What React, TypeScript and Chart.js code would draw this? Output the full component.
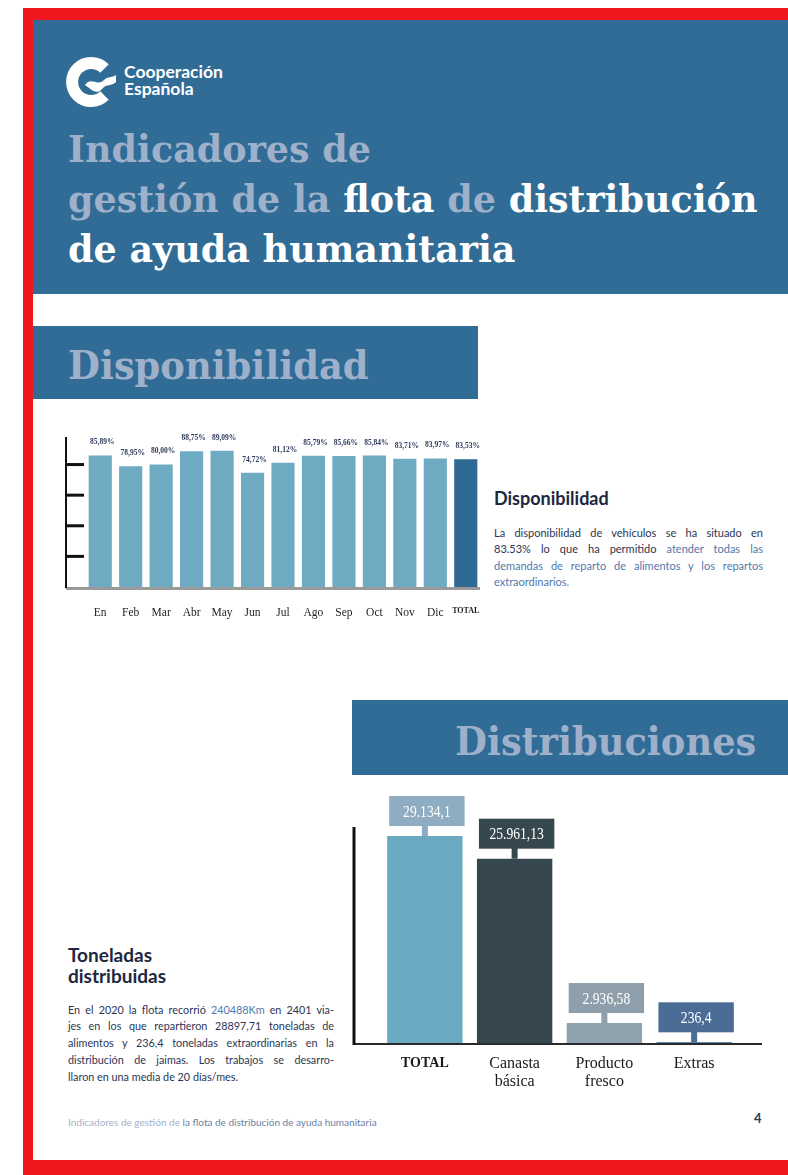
import React, { useEffect, useRef } from 'react';
import { Chart, registerables } from 'chart.js';

Chart.register(...registerables);

// ---------- data ----------
const months = ['En', 'Feb', 'Mar', 'Abr', 'May', 'Jun', 'Jul', 'Ago', 'Sep', 'Oct', 'Nov', 'Dic', 'TOTAL'];
const availability = [85.89, 78.95, 80.0, 88.75, 89.09, 74.72, 81.12, 85.79, 85.66, 85.84, 83.71, 83.97, 83.53];
const availabilityTickStep = 20;

const distCategories: (string | string[])[] = ['TOTAL', ['Canasta', 'básica'], ['Producto', 'fresco'], 'Extras'];
const tonnes = [29134.1, 25961.13, 2936.58, 236.4];
const tonnesTickStep = 5000;

// ---------- helpers ----------
const pct = (v: number) => v.toFixed(2).replace('.', ',') + '%';
const esNum = (v: number) => {
  const [i, d] = String(v).split('.');
  const g = i.replace(/\B(?=(\d{3})+(?!\d))/g, '.');
  return d ? g + ',' + d : g;
};

const axisDeco = {
  id: 'axisDeco',
  afterDatasetsDraw(chart: any, _a: any, o: any) {
    const { ctx, chartArea } = chart;
    const ys = chart.scales.y;
    const ax = chartArea.left - o.gap;
    ctx.save();
    ctx.fillStyle = o.baseColor;
    ctx.fillRect(ax, chartArea.bottom + o.baseOffset, chartArea.right + o.baseExtend - ax, o.baseWidth);
    ctx.fillStyle = o.color;
    ctx.fillRect(ax - o.axisWidth / 2, chartArea.top, o.axisWidth, chartArea.bottom - chartArea.top + 1);
    ys.ticks.forEach((t: any) => {
      if (t.value <= 0 || t.value % o.step !== 0) return;
      const py = ys.getPixelForValue(t.value);
      ctx.fillRect(ax, py - o.tickWidth / 2, o.tickLen, o.tickWidth);
    });
    ctx.restore();
  },
};

const pctLabels = {
  id: 'pctLabels',
  afterDatasetsDraw(chart: any, _a: any, o: any) {
    const { ctx } = chart;
    const meta = chart.getDatasetMeta(0);
    const vals = chart.data.datasets[0].data;
    ctx.save();
    ctx.font = o.font;
    ctx.fillStyle = o.color;
    ctx.textAlign = 'center';
    ctx.textBaseline = 'middle';
    meta.data.forEach((el: any, i: number) => {
      ctx.fillText(pct(vals[i]), el.x + o.dx, el.y - o.dy);
    });
    ctx.restore();
  },
};

const valueBoxes = {
  id: 'valueBoxes',
  afterDatasetsDraw(chart: any, _a: any, o: any) {
    const { ctx } = chart;
    const meta = chart.getDatasetMeta(0);
    const vals = chart.data.datasets[0].data;
    ctx.save();
    meta.data.forEach((el: any, i: number) => {
      const w = el.width;
      const bottom = el.y - o.gap;
      const top = bottom - o.height;
      ctx.fillStyle = o.colors[i];
      ctx.fillRect(el.x - w / 2 + o.dx, top, w, o.height);
      ctx.fillRect(el.x - o.stem / 2, bottom - 1, o.stem, o.gap + 1);
      ctx.save();
      ctx.translate(el.x + o.dx, top + o.height / 2 + 1);
      ctx.scale(o.squeeze, 1);
      ctx.font = o.font;
      ctx.fillStyle = '#ffffff';
      ctx.textAlign = 'center';
      ctx.textBaseline = 'middle';
      ctx.fillText(esNum(vals[i]), 0, 0);
      ctx.restore();
    });
    ctx.restore();
  },
};

const noSidePadding = (s: any, h: number) => {
  s.height = h;
  s.paddingLeft = 0;
  s.paddingRight = 0;
};

const hiddenY = (max: number, step: number) => ({
  min: 0,
  max,
  ticks: { display: false, stepSize: step },
  grid: { display: false, drawTicks: false },
  border: { display: false },
  afterFit: (s: any) => {
    s.width = 0;
  },
});

// ---------- styles ----------
const BLUE = '#306c96';
const PALE = '#9fb1ca';
const RED = '#f0171f';

const abs = (left: number, top: number, extra: React.CSSProperties = {}): React.CSSProperties => ({
  position: 'absolute',
  left,
  top,
  ...extra,
});

const slab: React.CSSProperties = {
  fontFamily: '"DejaVu Serif", serif',
  fontWeight: 700,
  whiteSpace: 'nowrap',
  transformOrigin: 'left center',
};

const paraLine = (width: number, last: boolean): React.CSSProperties => ({
  width,
  whiteSpace: 'nowrap',
  textAlign: last ? 'left' : 'justify',
  textAlignLast: last ? 'left' : 'justify',
});

export default function App() {
  const c1 = useRef<HTMLCanvasElement>(null);
  const c2 = useRef<HTMLCanvasElement>(null);

  useEffect(() => {
    const serif = 'Liberation Serif';
    const ch1 = new Chart(c1.current as HTMLCanvasElement, {
      type: 'bar',
      data: {
        labels: months,
        datasets: [
          {
            data: availability,
            backgroundColor: months.map((_, i) => (i === months.length - 1 ? '#2f6a95' : '#6eaac2')),
            barPercentage: 0.76,
            categoryPercentage: 1,
          },
        ],
      },
      options: {
        animation: false,
        responsive: false,
        layout: { padding: { left: 35, right: 9, top: 17, bottom: 0 } },
        plugins: {
          legend: { display: false },
          tooltip: { enabled: false },
          axisDeco: {
            gap: 19, color: '#111', axisWidth: 2, tickLen: 18, tickWidth: 3, step: availabilityTickStep,
            baseColor: '#9a9a9a', baseWidth: 3, baseOffset: 0, baseExtend: -1,
          },
          pctLabels: { font: `bold 7.5px "${serif}"`, color: '#2c3a5a', dx: 2, dy: 13 },
        } as any,
        scales: {
          x: {
            grid: { display: false },
            border: { display: false },
            ticks: {
              padding: 11,
              color: '#1f1f1f',
              autoSkip: false,
              maxRotation: 0,
              font: (c: any) =>
                c.index === months.length - 1
                  ? { family: serif, size: 8, weight: 'bold' }
                  : { family: serif, size: 11.5 },
            },
            afterFit: (s: any) => noSidePadding(s, 38),
          },
          y: hiddenY(98, availabilityTickStep),
        } as any,
      },
      plugins: [axisDeco, pctLabels],
    });

    const ch2 = new Chart(c2.current as HTMLCanvasElement, {
      type: 'bar',
      data: {
        labels: distCategories as any,
        datasets: [
          {
            data: tonnes,
            backgroundColor: ['#6ba8c1', '#37474f', '#8fa2ad', '#2c6590'],
            barPercentage: 0.84,
            categoryPercentage: 1,
          },
        ],
      },
      options: {
        animation: false,
        responsive: false,
        layout: { padding: { left: 40, right: 41, top: 37, bottom: 0 } },
        plugins: {
          legend: { display: false },
          tooltip: { enabled: false },
          axisDeco: {
            gap: 26, color: '#111', axisWidth: 3, tickLen: 19, tickWidth: 4, step: tonnesTickStep,
            baseColor: '#2a2a2a', baseWidth: 2, baseOffset: -1, baseExtend: 23,
          },
          valueBoxes: {
            colors: ['#8eacc2', '#37474f', '#8e9fab', '#4a6c95'],
            gap: 10, height: 30, stem: 6, squeeze: 0.8, dx: 2, font: `17px "${serif}"`,
          },
        } as any,
        scales: {
          x: {
            grid: { display: false },
            border: { display: false },
            ticks: {
              padding: 3,
              color: '#1a1a1a',
              autoSkip: false,
              maxRotation: 0,
              font: (c: any) =>
                c.index === 0
                  ? { family: serif, size: 14, weight: 'bold', lineHeight: 1.15 }
                  : { family: serif, size: 16, lineHeight: 1.12 },
            },
            afterFit: (s: any) => noSidePadding(s, 66),
          },
          y: hiddenY(30400, tonnesTickStep),
        } as any,
      },
      plugins: [axisDeco, valueBoxes],
    });

    return () => {
      ch1.destroy();
      ch2.destroy();
    };
  }, []);

  const sans = 'Lato, "Open Sans", sans-serif';
  const dark = '#2b3553';
  const link = '#4f79ad';

  return (
    <div style={{ position: 'absolute', left: 0, top: 0, width: 788, height: 1175, overflow: 'hidden', background: '#fff' }}>
      {/* red frame */}
      <div style={abs(23, 8, { width: 765, height: 12, background: RED })} />
      <div style={abs(23, 8, { width: 10, height: 1167, background: RED })} />
      <div style={abs(23, 1160, { width: 765, height: 15, background: RED })} />

      {/* header */}
      <div style={abs(33, 20, { width: 755, height: 274, background: BLUE })} />
      <svg style={abs(64, 54)} width={56} height={56} viewBox="0 0 56 56">
        <path d="M40.5 14.5 A19 19 0 1 0 40.5 41.5" fill="none" stroke="#fff" strokeWidth={12} />
        <path
          d="M21 31 C27 22, 33 33, 40 26 C44 22, 48 24, 52 21 L52 28 C47 33, 43 29, 38 35 C32 42, 26 34, 21 31 Z"
          fill="#fff"
        />
      </svg>
      <div style={abs(124, 62.7, { fontFamily: sans, fontWeight: 700, fontSize: 17.5, lineHeight: '17px', color: '#fff' })}>
        <div>Cooperación</div>
        <div>Española</div>
      </div>
      <div style={abs(68, 124, { ...slab, fontSize: 38, lineHeight: '50px', color: PALE, transform: 'scaleX(0.96)' })}>
        <div>Indicadores de</div>
        <div>
          gestión de la <span style={{ color: '#fff' }}>flota</span> de <span style={{ color: '#fff' }}>distribución</span>
        </div>
        <div style={{ color: '#fff' }}>de ayuda humanitaria</div>
      </div>

      {/* Disponibilidad section */}
      <div style={abs(33, 326, { width: 445, height: 73, background: BLUE })} />
      <div style={abs(68, 340, { ...slab, fontSize: 40, lineHeight: '50px', color: PALE, transform: 'scaleX(0.92)' })}>
        Disponibilidad
      </div>

      <div style={abs(50, 420, { width: 440, height: 205 })}>
        <canvas ref={c1} width={440} height={205} style={{ width: 440, height: 205, display: 'block' }} />
      </div>

      <div style={abs(494, 487, { fontFamily: sans, fontWeight: 700, fontSize: 18, lineHeight: '22px', color: '#1d2740' })}>
        Disponibilidad
      </div>
      <div style={abs(494, 525, { fontFamily: sans, fontSize: 11, lineHeight: '16.3px', color: dark })}>
        <div style={paraLine(269, false)}>La disponibilidad de vehículos se ha situado en</div>
        <div style={paraLine(269, false)}>
          83.53% lo que ha permitido <span style={{ color: link }}>atender todas las</span>
        </div>
        <div style={{ ...paraLine(269, false), color: link }}>demandas de reparto de alimentos y los repartos</div>
        <div style={{ ...paraLine(269, true), color: link }}>extraordinarios.</div>
      </div>

      {/* Distribuciones section */}
      <div style={abs(352, 700, { width: 436, height: 75, background: BLUE })} />
      <div style={abs(455, 716, { ...slab, fontSize: 40, lineHeight: '50px', color: PALE, transform: 'scaleX(0.92)' })}>
        Distribuciones
      </div>

      <div style={abs(340, 790, { width: 440, height: 320 })}>
        <canvas ref={c2} width={440} height={320} style={{ width: 440, height: 320, display: 'block' }} />
      </div>

      <div style={abs(68, 944, { fontFamily: sans, fontWeight: 700, fontSize: 19, lineHeight: '21px', color: '#1d2740' })}>
        <div>Toneladas</div>
        <div>distribuidas</div>
      </div>
      <div style={abs(68, 1001.5, { fontFamily: sans, fontSize: 10.8, lineHeight: '16.8px', color: dark })}>
        <div style={paraLine(266, false)}>
          En el 2020 la flota recorrió <span style={{ color: link }}>240488Km</span> en 2401 via-
        </div>
        <div style={paraLine(266, false)}>jes en los que repartieron 28897,71 toneladas de</div>
        <div style={paraLine(266, false)}>alimentos y 236,4 toneladas extraordinarias en la</div>
        <div style={paraLine(266, false)}>distribución de jaimas. Los trabajos se desarro-</div>
        <div style={paraLine(266, true)}>llaron en una media de 20 días/mes.</div>
      </div>

      {/* footer */}
      <div style={abs(68, 1115, { fontFamily: sans, fontSize: 10, lineHeight: '14px', color: '#a3b2c8', whiteSpace: 'nowrap' })}>
        Indicadores de gestión de <span style={{ color: '#6a80a3' }}>la flota de distribución de ayuda humanitaria</span>
      </div>
      <div style={abs(754, 1110, { fontFamily: sans, fontWeight: 700, fontSize: 13, lineHeight: '16px', color: '#2c3a55' })}>4</div>
    </div>
  );
}
